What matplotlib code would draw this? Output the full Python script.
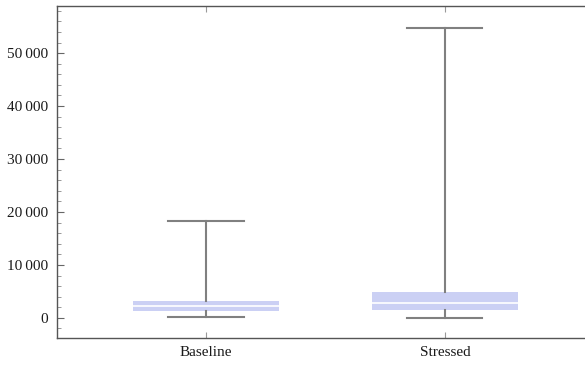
import numpy as np
import matplotlib.pyplot as plt
from matplotlib.ticker import MultipleLocator, FuncFormatter

# box-whisker summaries
groups = ['Baseline', 'Stressed']
whislo = [130, 60]
q1 = [1320, 1510]
med = [2320, 2770]
q3 = [3200, 4960]
whishi = [18300, 54800]

plt.rcParams['font.family'] = ['Liberation Serif', 'DejaVu Serif']
plt.rcParams['font.size'] = 11

fig = plt.figure(figsize=(5.85, 3.65), dpi=100)
ax = fig.add_axes([56.5 / 585, 27 / 365, 528.5 / 585, 332 / 365])

stats = []
for i, g in enumerate(groups):
    stats.append(dict(label=g, whislo=whislo[i], q1=q1[i], med=med[i],
                      q3=q3[i], whishi=whishi[i], fliers=[]))

ax.bxp(stats, positions=[1, 2], widths=0.61, patch_artist=True,
       showfliers=False, capwidths=0.314,
       boxprops=dict(facecolor='#cbd0f4', edgecolor='none', linewidth=0),
       medianprops=dict(color='white', linewidth=1.2),
       whiskerprops=dict(color='#808080', linewidth=1.5),
       capprops=dict(color='#808080', linewidth=1.5))

ax.set_xlim(0.3745, 2.586)
ax.set_ylim(-3800, 58900)

ax.yaxis.set_major_locator(MultipleLocator(10000))
ax.yaxis.set_minor_locator(MultipleLocator(2000))
ax.yaxis.set_major_formatter(FuncFormatter(
    lambda v, p: f'{int(v):,}'.replace(',', '\u2009')))

for s in ['left', 'bottom', 'top']:
    ax.spines[s].set_color('#555555')
    ax.spines[s].set_linewidth(1.0)
ax.spines['right'].set_visible(False)

ax.tick_params(axis='y', which='major', direction='in', length=5,
               color='#666666', pad=6, labelcolor='#1a1a1a')
ax.tick_params(axis='y', which='minor', direction='in', length=3,
               color='#888888')
ax.tick_params(axis='x', which='major', direction='in', length=4,
               color='#999999', top=True, pad=6, labelcolor='#1a1a1a')

plt.savefig('out.png', dpi=100)
